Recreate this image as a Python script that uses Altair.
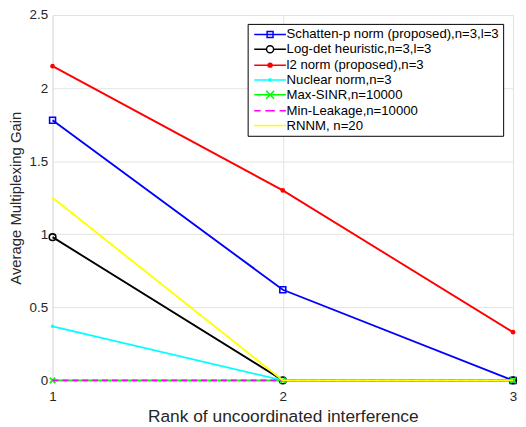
import altair as alt
import pandas as pd

ranks = [1, 2, 3]
series_names = [
    "Schatten-p norm (proposed),n=3,l=3",
    "Log-det heuristic,n=3,l=3",
    "l2 norm (proposed),n=3",
    "Nuclear norm,n=3",
    "Max-SINR,n=10000",
    "Min-Leakage,n=10000",
    "RNNM, n=20",
]
schatten = [1.78, 0.62, 0.0]
logdet = [0.98, 0.0, 0.0]
l2norm = [2.15, 1.30, 0.33]
nuclear = [0.37, 0.0, 0.0]
maxsinr = [0.0, 0.0, 0.0]
minleak = [0.0, 0.0, 0.0]
rnnm = [1.25, 0.0, 0.0]
values = [schatten, logdet, l2norm, nuclear, maxsinr, minleak, rnnm]
colors = ["#0000FF", "#000000", "#FF0000", "#00FFFF", "#00FF00", "#FF00FF", "#FFFF00"]
y_ticks = [0, 0.5, 1, 1.5, 2, 2.5]

# chart marker styles: (shape, filled, size) or None
markers = [
    ("square", False, 36),
    ("circle", False, 45),
    ("circle", True, 22),
    ("circle", True, 12),
    ("cross", True, 0),
    None,
    None,
]
# legend symbols (line + marker) as unit paths
legend_paths = [
    "M-4,0H4M-0.75,-0.75H0.75V0.75H-0.75Z",
    "M-4,0H-0.9M0.9,0H4M-0.9,0A0.9,0.9 0 1,0 0.9,0A0.9,0.9 0 1,0 -0.9,0",
    "M-4,0H4M-0.5,0A0.5,0.5 0 1,0 0.5,0A0.5,0.5 0 1,0 -0.5,0M-0.2,0A0.2,0.2 0 1,0 0.2,0A0.2,0.2 0 1,0 -0.2,0",
    "M-4,0H4M-0.3,0A0.3,0.3 0 1,0 0.3,0A0.3,0.3 0 1,0 -0.3,0",
    "M-4,0H4M-1,-1L1,1M-1,1L1,-1",
    "M-4,0H-2.4M-1.2,0H1.2M2.4,0H4",
    "M-4,0H4",
]

xscale = alt.Scale(domain=[1, 3], nice=False)
yscale = alt.Scale(domain=[0, 2.5], nice=False)
FONT = "Liberation Sans"

xaxis = alt.Axis(tickCount=2, format="d", title="Rank of uncoordinated interference",
                 grid=True, gridColor="#e3e3e3", domain=False, ticks=False,
                 labelFlush=False, labelOverlap=False,
                 labelPadding=9, titlePadding=5, labelFontSize=13.5, titleFontSize=17.5,
                 labelColor="#262626", titleColor="#262626", labelFont=FONT, titleFont=FONT,
                 titleFontWeight="normal")
yaxis = alt.Axis(values=y_ticks, format="~g", title="Average Multiplexing Gain",
                 grid=True, gridColor="#e3e3e3", domain=False, ticks=False,
                 labelFlush=False, labelOverlap=False,
                 labelPadding=5, titlePadding=6, labelFontSize=13.5, titleFontSize=15,
                 labelColor="#262626", titleColor="#262626", labelFont=FONT, titleFont=FONT,
                 titleFontWeight="normal")

enc_x = alt.X("rank:Q", scale=xscale, axis=xaxis)
enc_y = alt.Y("gain:Q", scale=yscale, axis=yaxis)

layers = []
for i, (name, vals, col) in enumerate(zip(series_names, values, colors)):
    df = pd.DataFrame({"rank": ranks, "gain": vals, "series": name})
    line_kw = dict(color=col, strokeWidth=1.9, clip=False)
    if name.startswith("Min-Leakage"):
        line_kw["strokeDash"] = [6, 4]
    layers.append(alt.Chart(df).mark_line(**line_kw).encode(x=enc_x, y=enc_y))
    m = markers[i]
    if m is not None:
        shape, filled, size = m
        if shape == "cross":
            pt = alt.Chart(df).mark_point(shape="M-1,-1L1,1M-1,1L1,-1", filled=False,
                                          size=30, color=col, strokeWidth=1.8,
                                          opacity=1, clip=False)
        else:
            pt = alt.Chart(df).mark_point(shape=shape, filled=filled, size=size,
                                          color=col, strokeWidth=1.6, opacity=1, clip=False)
        layers.append(pt.encode(x=enc_x, y=enc_y))

legend_df = pd.DataFrame({"rank": [1] * len(series_names), "gain": [0] * len(series_names),
                          "series": series_names})
legend_layer = alt.Chart(legend_df).mark_point(filled=False, opacity=0, size=64).encode(
    x=enc_x, y=enc_y,
    color=alt.Color("series:N", scale=alt.Scale(domain=series_names, range=colors),
                    legend=alt.Legend(title=None, orient="none", legendX=197, legendY=9,
                                      symbolSize=64, symbolOffset=12, labelOffset=10,
                                      symbolStrokeWidth=1.5, symbolOpacity=1,
                                      strokeColor="#000000", fillColor="#ffffff",
                                      padding=4, rowPadding=1, labelFont=FONT,
                                      labelFontSize=13.3, labelColor="#000000",
                                      labelLimit=0, cornerRadius=0)),
    shape=alt.Shape("series:N", scale=alt.Scale(domain=series_names, range=legend_paths)),
)

chart = alt.layer(*layers, legend_layer).properties(
    width=465, height=369,
    autosize=alt.AutoSizeParams(type="none"),
    padding={"left": 45, "top": 5, "right": 5, "bottom": 45},
).configure_view(stroke="#262626", strokeWidth=1).configure(background="white")

chart.save("out.html", embed_options={"renderer": "svg", "actions": False})
